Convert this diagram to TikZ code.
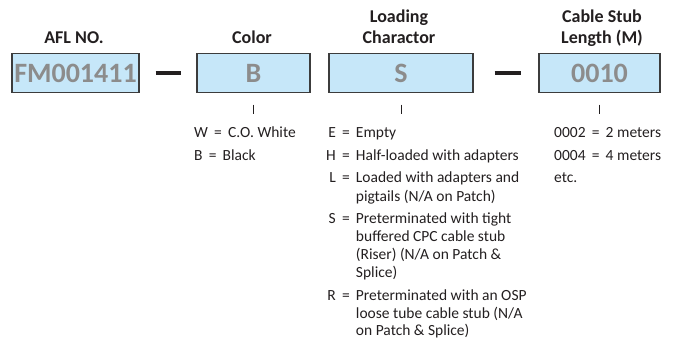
\documentclass[tikz,border=0pt]{standalone}
\usepackage{fontspec}
\setmainfont{Carlito}
\usetikzlibrary{positioning}
\definecolor{boxblue}{HTML}{C6E7F9}
\definecolor{codegray}{HTML}{8C8C8C}
\definecolor{edgegray}{HTML}{3C3C3C}
\definecolor{inkblack}{HTML}{231F20}
\newcommand{\ky}[1]{#1\hspace{0.4em}=\hspace{0.4em}}

\begin{document}
\begin{tikzpicture}[x=1pt,y=-1pt,
    codebox/.style={draw=edgegray,line width=1.3pt,fill=boxblue,minimum height=39pt,inner sep=0pt,
      font=\fontsize{28}{30}\selectfont\bfseries,text=codegray},
    head/.style={font=\fontsize{18}{21}\selectfont\bfseries,align=center,inner sep=0pt,anchor=base,text=inkblack},
    legend/.style={font=\fontsize{15.5}{18}\selectfont,inner sep=0pt,anchor=base west,text=inkblack},
    bar/.style={draw=inkblack,line width=4pt},
    tick/.style={draw=inkblack,line width=0.8pt}]
  \useasboundingbox (0,0) rectangle (677,350);
  % code boxes
  \node[codebox,minimum width=127pt] (afl) at (75.5,73) {FM001411};
  \node[codebox,minimum width=113pt] (color) at (253.5,73) {B};
  \node[codebox,minimum width=144pt] (load) at (401,73) {S};
  \node[codebox,minimum width=121pt] (stub) at (599.5,73) {0010};
  % headings
  \node[head] (aflhead) at (74,44) {AFL NO.};
  \node[head] (colorhead) at (252,44) {Color};
  \node[head] (loadhead) at (399,44) {Loading\\Charactor};
  \node[head] (stubhead) at (602,44) {Cable Stub\\Length (M)};
  % dashes
  \draw[bar] ([xshift=16pt]afl.east) -- ([xshift=-15pt]color.west);
  \draw[bar] ([xshift=21pt]load.east) -- ([xshift=-17pt]stub.west);
  % ticks
  \draw[tick] ([yshift=-11.5pt]color.south) -- ++(0,9);
  \draw[tick] ([yshift=-11.5pt]load.south) -- ++(0,9);
  \draw[tick] ([yshift=-11.5pt]stub.south) -- ++(0,9);
  % legends
  \node[legend] (colorkey) at (194,138) {\begin{tabular}[t]{@{}l@{}}
      \ky{W}C.O. White\\[4.5pt]
      \ky{B}Black
    \end{tabular}};
  \node[legend] (loadkey) at (326,138) {\begin{tabular}[t]{@{}r@{}l@{}}
      \ky{E} & Empty\\[4.5pt]
      \ky{H} & Half-loaded with adapters\\[4.5pt]
      \ky{L} & Loaded with adapters and\\
             & pigtails (N/A on Patch)\\[4.5pt]
      \ky{S} & Preterminated with tight\\
             & buffered CPC cable stub\\
             & (Riser) (N/A on Patch \&\\
             & Splice)\\[4.5pt]
      \ky{R} & Preterminated with an OSP\\
             & loose tube cable stub (N/A\\
             & on Patch \& Splice)
    \end{tabular}};
  \node[legend] (stubkey) at (554,138) {\begin{tabular}[t]{@{}l@{}}
      \ky{0002}2 meters\\[4.5pt]
      \ky{0004}4 meters\\[4.5pt]
      etc.
    \end{tabular}};
\end{tikzpicture}
\end{document}
